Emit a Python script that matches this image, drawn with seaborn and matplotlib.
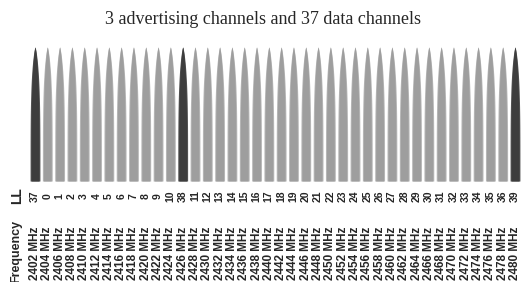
import numpy as np
import matplotlib
matplotlib.use("Agg")
import matplotlib.pyplot as plt
import matplotlib.transforms as mtransforms
import seaborn as sns

# Channel order as drawn (link-layer index), left to right
ll_channels = [37, 0, 1, 2, 3, 4, 5, 6, 7, 8, 9, 10, 38,
               11, 12, 13, 14, 15, 16, 17, 18, 19, 20, 21, 22, 23, 24,
               25, 26, 27, 28, 29, 30, 31, 32, 33, 34, 35, 36, 39]
frequencies = [2402, 2404, 2406, 2408, 2410, 2412, 2414, 2416, 2418, 2420,
               2422, 2424, 2426, 2428, 2430, 2432, 2434, 2436, 2438, 2440,
               2442, 2444, 2446, 2448, 2450, 2452, 2454, 2456, 2458, 2460,
               2462, 2464, 2466, 2468, 2470, 2472, 2474, 2476, 2478, 2480]
advertising = [37, 38, 39]
channel_level = [1.0] * 40

sns.set_style("white")
plt.rcParams['font.family'] = ['Liberation Sans', 'DejaVu Sans']

W, H = 521, 282
fig = plt.figure(figsize=(W / 100, H / 100), dpi=100)

# shapes axis: bottom at 181 px, top at 47 px
ax = fig.add_axes([0, 1 - 181 / H, 1, (181 - 47) / H])
step = 480 / 39
ax.set_xlim(-35 / step, (W - 35) / step)
ax.set_ylim(0, 1)
ax.axis("off")

t = np.linspace(0, 1, 200)
profile = (1 - t ** 4) ** 0.75
half = 0.4

for i, (ch, lvl) in enumerate(zip(ll_channels, channel_level)):
    if ch in advertising:
        outer, inner = "#555555", "#3d3d3d"
    else:
        outer, inner = "#b8b8b8", "#9e9e9e"
    y = t * lvl
    ax.fill_betweenx(y, i - half * profile, i + half * profile, color=outer, lw=0)
    ax.fill_betweenx(y, i - 0.8 * half * profile, i + 0.8 * half * profile, color=inner, lw=0)

trans = mtransforms.blended_transform_factory(ax.transData, fig.transFigure)
for i, (ch, f) in enumerate(zip(ll_channels, frequencies)):
    ax.text(i, 1 - 196 / H, str(ch), transform=trans, rotation=90,
            ha="center", va="center", fontsize=7.5, fontweight="bold", clip_on=False)
    ax.text(i, 1 - 280 / H, f"{f} MHz", transform=trans, rotation=90,
            ha="center", va="bottom", fontsize=8.5, fontweight="bold", clip_on=False)

fig.text(17 / W, 1 - 196 / H, "LL", rotation=90, ha="center", va="center",
         fontsize=10, fontweight="bold")
fig.text(16 / W, 1 - 283 / H, "Frequency", rotation=90, ha="center", va="bottom",
         fontsize=9, fontweight="bold")
fig.text(263 / W, 1 - 19 / H, "3 advertising channels and 37 data channels",
         ha="center", va="center", fontsize=13, family="Liberation Serif")

fig.savefig("out.png", dpi=100)
